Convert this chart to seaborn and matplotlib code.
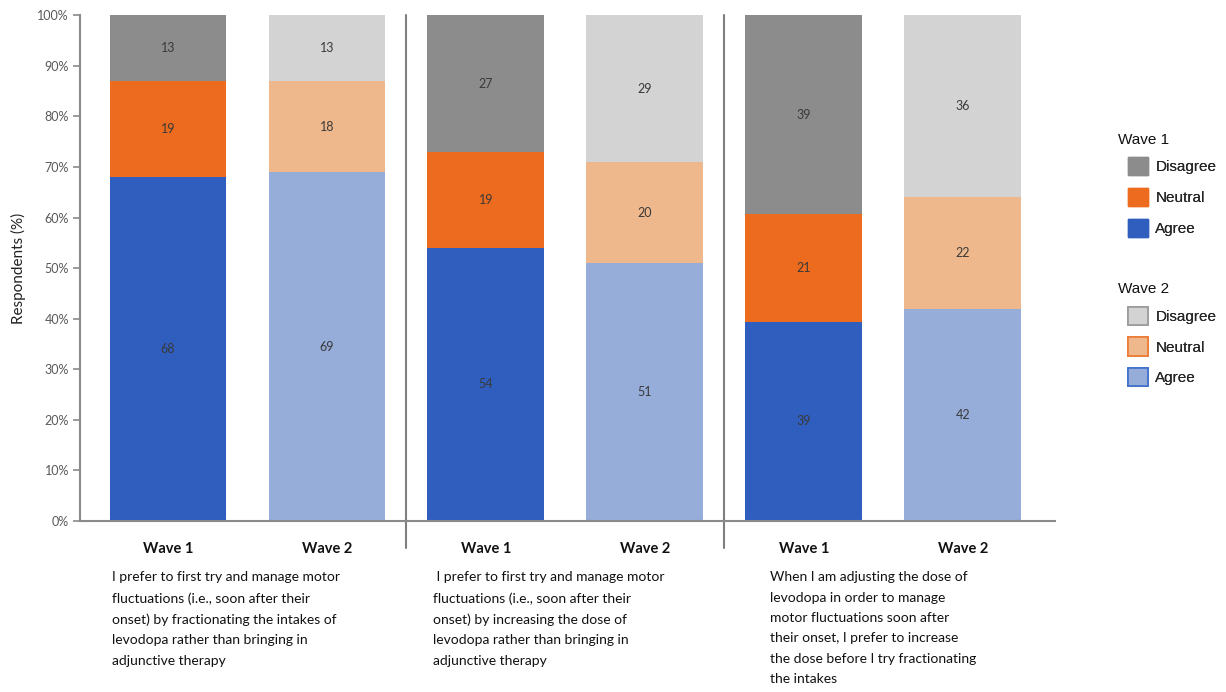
import matplotlib
matplotlib.use("Agg")
import matplotlib.pyplot as plt
from matplotlib.patches import Patch
from matplotlib.lines import Line2D
import seaborn as sns
import pandas as pd
import numpy as np

# ---- data -------------------------------------------------------------
bar_ids = ["g1_w1", "g1_w2", "g2_w1", "g2_w2", "g3_w1", "g3_w2"]
wave_labels = ["Wave 1", "Wave 2", "Wave 1", "Wave 2", "Wave 1", "Wave 2"]
agree = [68, 69, 54, 51, 39.4, 42]
neutral = [19, 18, 19, 20, 21.3, 22]
disagree = [13, 13, 27, 29, 39.3, 36]
responses = ["Disagree", "Neutral", "Agree"]
statements = [
    "I prefer to first try and manage motor\nfluctuations (i.e., soon after their\n"
    "onset) by fractionating the intakes of\nlevodopa rather than bringing in\nadjunctive therapy",
    " I prefer to first try and manage motor\nfluctuations (i.e., soon after their\n"
    "onset) by increasing the dose of\nlevodopa rather than bringing in\nadjunctive therapy",
    "When I am adjusting the dose of\nlevodopa in order to manage\nmotor fluctuations soon after\n"
    "their onset, I prefer to increase\nthe dose before I try fractionating\nthe intakes",
]
yticks = [0, 10, 20, 30, 40, 50, 60, 70, 80, 90, 100]

# ---- colours ----------------------------------------------------------
wave1_colors = {"Agree": "#2F5EBE", "Neutral": "#EC6B1E", "Disagree": "#8C8C8C"}
wave2_colors = {"Agree": "#95ADD8", "Neutral": "#EFB88C", "Disagree": "#D3D3D3"}
wave2_edges = {"Agree": "#3F6FCB", "Neutral": "#EC7A34", "Disagree": "#9A9A9A"}

def bar_colors(resp):
    return [wave1_colors[resp] if w == "Wave 1" else wave2_colors[resp] for w in wave_labels]

sns.set_style("white")
plt.rcParams["font.family"] = ["Lato", "DejaVu Sans"]

fig = plt.figure(figsize=(12.26, 6.92), dpi=100)
ax = fig.add_axes([0.0653, 0.247, 0.7952, 0.731])

a = np.array(agree)
n = np.array(neutral)
d = np.array(disagree)
tops = {"Disagree": a + n + d, "Neutral": a + n, "Agree": a}

# Stacked bars: draw cumulative tops from the tallest layer down
for resp in responses:
    df = pd.DataFrame({"bar": bar_ids, "top": tops[resp]})
    sns.barplot(data=df, x="bar", y="top", hue="bar", order=bar_ids,
                palette=dict(zip(bar_ids, bar_colors(resp))), legend=False,
                width=0.735, saturation=1, linewidth=0, ax=ax)

# Segment value labels
label_color = "#3A3A3A"
for i in range(len(bar_ids)):
    segs = [(0, a[i]), (a[i], a[i] + n[i]), (a[i] + n[i], a[i] + n[i] + d[i])]
    vals = [a[i], n[i], d[i]]
    for (lo, hi), v in zip(segs, vals):
        ax.text(i, (lo + hi) / 2, f"{v:.0f}", ha="center", va="center",
                fontsize=9, color=label_color)

ax.set_xlim(-0.553, 5.58)
ax.set_ylim(0, 100)
ax.set_yticks(yticks)
ax.set_yticklabels([f"{t}%" for t in yticks], fontsize=9, color="#595959")
ax.set_xticks(range(len(bar_ids)))
ax.set_xticklabels(wave_labels, fontsize=10.5, fontweight="bold", color="#111111")
ax.tick_params(axis="x", length=0, pad=15)
ax.tick_params(axis="y", length=5, width=1.2, color="#8A8A8A", direction="out", pad=3, left=True)
ax.set_xlabel("")
ax.set_ylabel("Respondents (%)", fontsize=11, color="#222222", labelpad=8)

for side in ["top", "right"]:
    ax.spines[side].set_visible(False)
for side in ["left", "bottom"]:
    ax.spines[side].set_color("#8A8A8A")
    ax.spines[side].set_linewidth(1.5)

# Group separators
trans = ax.get_xaxis_transform()
for xs in [1.5, 3.5]:
    ax.add_line(Line2D([xs, xs], [-0.053, 1.0], transform=trans, color="#7F7F7F",
                       linewidth=1.5, clip_on=False))

# Statements under each pair of bars
stmt_x = [-0.35, 1.67, 3.79]
for xs, txt in zip(stmt_x, statements):
    ax.text(xs, -0.099, txt, transform=trans, ha="left", va="top", fontsize=10,
            color="#111111", linespacing=1.84)

# Legends for both waves, each with a title placed slightly left of its swatches
leg_font = ["Liberation Sans", "DejaVu Sans"]
h1 = [Patch(facecolor=wave1_colors[r], edgecolor=wave1_colors[r]) for r in responses]
h2 = [Patch(facecolor=wave2_colors[r], edgecolor=wave2_edges[r], linewidth=1.2) for r in responses]
common = dict(frameon=False, handlelength=1.3, handleheight=1.45, handletextpad=0.5,
              labelspacing=0.83, borderpad=0, borderaxespad=0,
              prop={"family": leg_font, "size": 11})
for title, handles, title_y, leg_y in [("Wave 1", h1, 0.797, 0.773),
                                        ("Wave 2", h2, 0.582, 0.557)]:
    fig.text(0.912, title_y, title, ha="left", va="center",
             fontsize=11, family=leg_font, color="#111111")
    leg = fig.legend(handles, responses, loc="upper left",
                     bbox_to_anchor=(0.920, leg_y), **common)
    fig.add_artist(leg)

fig.savefig("out.png", dpi=100, facecolor="white")
